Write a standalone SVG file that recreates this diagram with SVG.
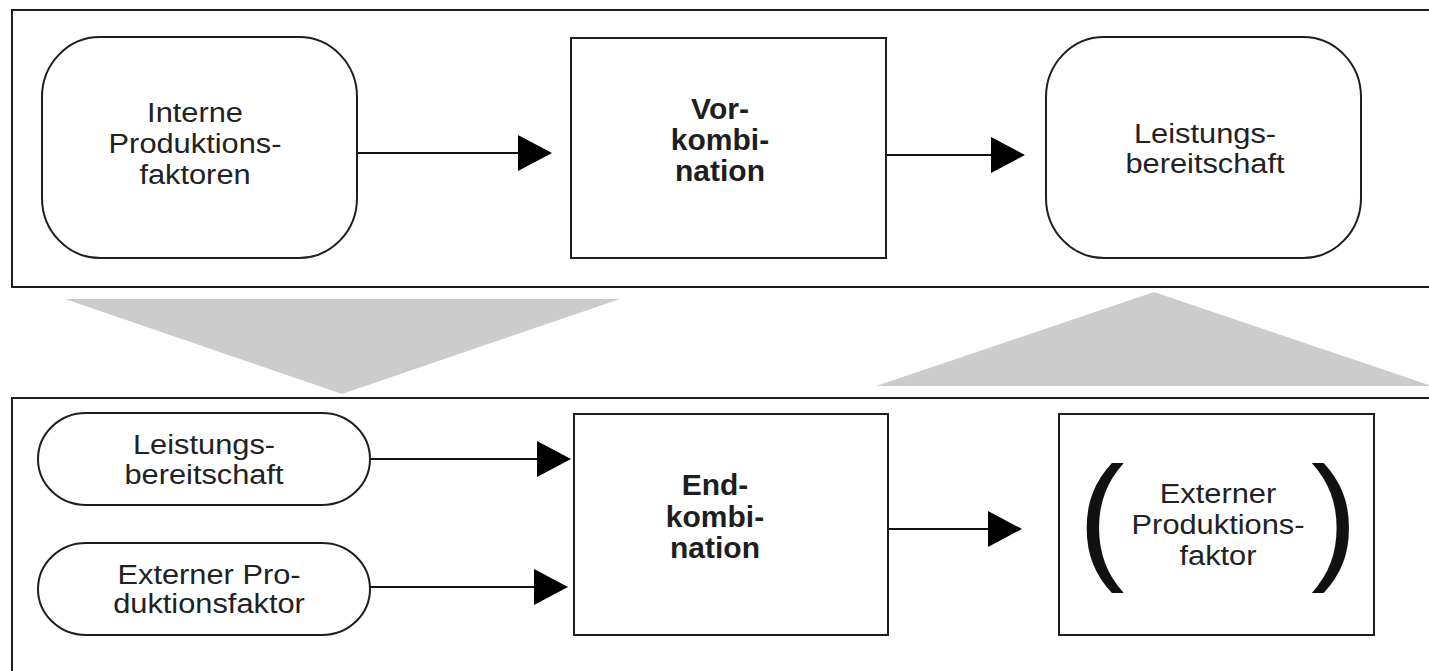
<svg xmlns="http://www.w3.org/2000/svg" width="1429" height="671" viewBox="0 0 1429 671">
<style>
.frame{fill:none;stroke:#1e1e1e;stroke-width:2}
.box{fill:#fff;stroke:#1e1e1e;stroke-width:2}
.conn{stroke:#111;stroke-width:2;fill:none}
.band{fill:#cccccc}
.t{font-family:"Liberation Sans",Arial,Helvetica,sans-serif;font-size:28px;fill:#222;text-anchor:middle}
.b{font-family:"Liberation Sans",Arial,Helvetica,sans-serif;font-size:30px;font-weight:bold;fill:#1e1e1e;text-anchor:middle}
.p{font-family:"Liberation Sans",Arial,Helvetica,sans-serif;font-size:140px;fill:#111}
</style>
<defs>
<marker id="ah" viewBox="0 -18 34 36" markerWidth="34" markerHeight="36" refX="0" refY="0" markerUnits="userSpaceOnUse" orient="auto">
<path d="M0,-18 L34,0 L0,18 Z" fill="#000"/>
</marker>
</defs>
<rect width="1429" height="671" fill="#fff"/>
<g id="frames">
<rect class="frame" x="12" y="10" width="1440" height="277"/>
<rect class="frame" x="12" y="398" width="1440" height="300"/>
</g>
<g id="bands">
<polygon class="band" points="65,299 620,299 342,394"/>
<polygon class="band" points="1154,292 1432,386 876,386"/>
</g>
<g id="connectors">
<line class="conn" x1="357" y1="153" x2="518" y2="153" marker-end="url(#ah)"/>
<line class="conn" x1="886" y1="155" x2="991" y2="155" marker-end="url(#ah)"/>
<line class="conn" x1="370" y1="459" x2="537" y2="459" marker-end="url(#ah)"/>
<line class="conn" x1="370" y1="587" x2="534" y2="587" marker-end="url(#ah)"/>
<line class="conn" x1="888" y1="529" x2="988" y2="529" marker-end="url(#ah)"/>
</g>
<g id="interne">
<rect class="box" x="42" y="37" width="315" height="221" rx="58" ry="60"/>
<g transform="translate(195 0) scale(1.1 1)">
<text class="t" x="0" y="122">Interne</text>
<text class="t" x="0" y="153">Produktions-</text>
<text class="t" x="0" y="184">faktoren</text>
</g>
</g>
<g id="vorkombination">
<rect class="box" x="571" y="38" width="315" height="220"/>
<text class="b" x="720" y="119">Vor-</text>
<text class="b" x="720" y="150">kombi-</text>
<text class="b" x="720" y="181">nation</text>
</g>
<g id="leistung-top">
<rect class="box" x="1046" y="37" width="315" height="221" rx="58" ry="60"/>
<g transform="translate(1205 0) scale(1.1 1)">
<text class="t" x="0" y="143">Leistungs-</text>
<text class="t" x="0" y="173">bereitschaft</text>
</g>
</g>
<g id="leistung-bottom">
<rect class="box" x="38" y="413" width="332" height="92" rx="48" ry="46"/>
<g transform="translate(204 0) scale(1.1 1)">
<text class="t" x="0" y="454">Leistungs-</text>
<text class="t" x="0" y="484">bereitschaft</text>
</g>
</g>
<g id="externer-input">
<rect class="box" x="38" y="543" width="332" height="92" rx="48" ry="46"/>
<g transform="translate(209 0) scale(1.1 1)">
<text class="t" x="0" y="584">Externer Pro-</text>
<text class="t" x="0" y="613">duktionsfaktor</text>
</g>
</g>
<g id="endkombination">
<rect class="box" x="574" y="414" width="314" height="221"/>
<text class="b" x="715" y="495">End-</text>
<text class="b" x="715" y="527">kombi-</text>
<text class="b" x="715" y="558">nation</text>
</g>
<g id="externer-output">
<rect class="box" x="1059" y="414" width="315" height="221"/>
<text class="p" x="1078" y="564">(</text>
<text class="p" x="1311" y="564">)</text>
<g transform="translate(1218 0) scale(1.1 1)">
<text class="t" x="0" y="503">Externer</text>
<text class="t" x="0" y="534">Produktions-</text>
<text class="t" x="0" y="565">faktor</text>
</g>
</g>
</svg>
